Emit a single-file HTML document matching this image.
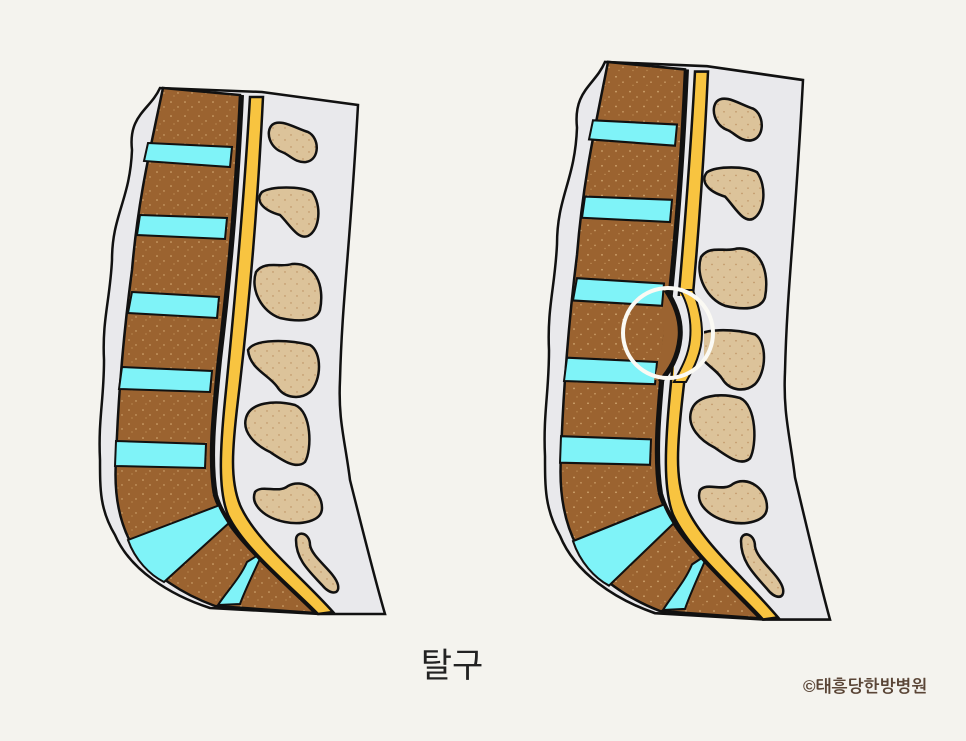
<!DOCTYPE html>
<html><head><meta charset="utf-8"><style>
html,body{margin:0;padding:0;background:#f4f3ee;}
svg{display:block}
</style></head><body>
<svg width="966" height="741" viewBox="0 0 966 741" xmlns="http://www.w3.org/2000/svg">
<defs>
<pattern id="spk" width="14" height="14" patternUnits="userSpaceOnUse">
<rect width="14" height="14" fill="#9b6330"/>
<circle cx="3" cy="4" r="0.8" fill="#d9b07a"/><circle cx="10" cy="9" r="0.7" fill="#d9b07a"/><circle cx="6" cy="12" r="0.6" fill="#c99a60"/>
</pattern>
<pattern id="spk2" width="12" height="12" patternUnits="userSpaceOnUse">
<rect width="12" height="12" fill="#dcc39a"/>
<circle cx="3" cy="3" r="0.7" fill="#b88a5a"/><circle cx="9" cy="8" r="0.7" fill="#b88a5a"/>
</pattern>
<g id="spine">
<path d="M160,88 C150,110 128,115 132,150 C130,200 112,215 112,260 C110,300 102,320 104,360 C104,400 98,420 100,460 C100,490 100,510 115,535 C130,570 170,595 210,608 L320,614 L385,614 C375,580 360,520 350,480 C345,440 338,420 340,380 C342,300 350,250 358,105 L262,92 Z" fill="#e9e9ec" stroke="#111" stroke-width="2.5"/>
<path d="M163,88 L240,95 C236,180 230,260 218,360 C212,420 208,460 214,495 C225,530 260,560 315,613 L215,606 C185,595 150,575 132,545 C118,520 114,490 116,460 C118,400 124,330 132,270 C138,200 150,150 163,88 Z" fill="url(#spk)" stroke="#111" stroke-width="2.5"/>
<g fill="#7ff3f8" stroke="#111" stroke-width="2">
<path d="M148,143 L232,147 L230,167 L144,161 Z"/>
<path d="M140,215 L227,218 L225,239 L137,235 Z"/>
<path d="M132,292 L219,297 L217,318 L128,313 Z"/>
<path d="M122,367 L212,371 L210,392 L119,389 Z"/>
<path d="M116,441 L206,444 L205,468 L115,466 Z"/>
<path d="M128,540 L220,505 L230,522 L164,582 C150,575 135,560 128,540 Z"/>
<path d="M247,562 L263,552 C255,570 245,590 240,604 L218,605 C228,590 240,578 247,562 Z"/>
</g>
<path d="M242,95 C238,180 232,260 220,360 C214,420 210,460 216,495 C226,530 262,562 318,613" fill="none" stroke="#111" stroke-width="4"/>
<path d="M250,97 L263,97 C258,200 250,300 238,400 C232,450 230,480 240,505 C255,540 300,575 333,612 L318,614 C290,585 245,550 228,515 C218,490 220,450 225,400 C235,300 244,200 250,97 Z" fill="#f8c440" stroke="#111" stroke-width="2.5"/>
<g fill="url(#spk2)" stroke="#111" stroke-width="2.5">
<path d="M272,125 C280,118 295,128 308,132 C320,138 320,160 306,162 C295,163 290,155 282,152 C270,148 265,132 272,125 Z"/>
<path d="M262,192 C272,186 300,186 312,192 C322,205 320,230 308,236 C298,240 290,225 280,215 C262,210 255,200 262,192 Z"/>
<path d="M256,272 C265,260 280,268 292,264 C315,262 325,285 320,310 C316,322 298,322 280,318 C262,312 250,290 256,272 Z"/>
<path d="M248,350 C255,338 290,340 310,345 C322,352 322,380 310,392 C300,400 285,398 278,388 C270,375 250,370 248,350 Z"/>
<path d="M246,418 C250,402 275,400 295,405 C312,412 312,450 305,462 C296,470 282,460 270,452 C255,445 242,432 246,418 Z"/>
<path d="M255,492 C262,484 278,494 288,486 C302,478 322,490 322,508 C322,522 300,525 285,522 C265,518 250,505 255,492 Z"/>
<path d="M296,540 C296,530 310,532 310,545 C312,558 335,572 338,585 C340,595 330,595 322,585 C310,572 296,560 296,540 Z"/>
</g>
</g>
</defs>
<use href="#spine"/>
<g transform="translate(445,-31.3) scale(1,1.06)"><use href="#spine"/></g>
<!-- cover original cord in herniation zone -->
<rect x="674" y="296" width="30" height="80" fill="#e9e9ec"/>
<!-- herniation bulge -->
<path d="M664,292 C672,302 680,318 678,338 C676,356 668,370 658,380 L654,380 C660,360 664,340 664,320 Z" fill="#9b6330"/>
<path d="M666,290 C674,302 682,318 680,338 C678,358 670,370 660,382" fill="none" stroke="#111" stroke-width="5"/>
<!-- displaced cord -->
<path d="M680,290 C688,304 692,320 690,340 C688,358 680,370 674,382 L686,382 C694,368 702,352 702,334 C702,314 696,300 693,290 Z" fill="#f8c440" stroke="#111" stroke-width="2"/>
<circle cx="668" cy="333" r="45" fill="none" stroke="#fbfaf4" stroke-width="4"/>
<text x="452" y="677" text-anchor="middle" font-family="'Liberation Sans','Noto Sans CJK KR',sans-serif" font-size="34" fill="#222">탈구</text>
<text x="803" y="692" font-family="'Liberation Sans','NanumGothic','Noto Sans CJK KR',sans-serif" font-size="17" font-weight="bold" fill="#5a4536">©태흥당한방병원</text>
</svg>
</body></html>
